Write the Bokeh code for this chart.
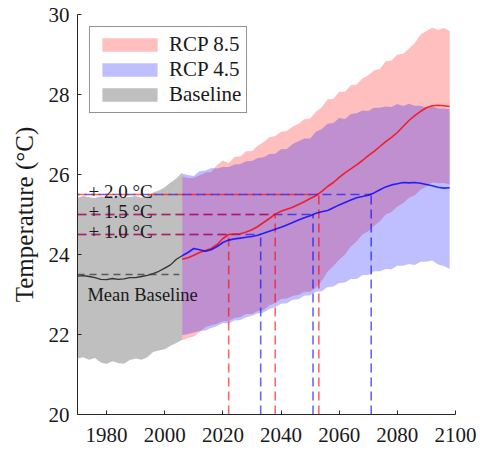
from bokeh.plotting import figure
from bokeh.models import Range1d, Legend, LegendItem
from bokeh.core.properties import value
from bokeh.embed import file_html
from bokeh.resources import INLINE

# ---------------- data ----------------
base_years = list(range(1970, 2007, 2))
base_hi = [25.42, 25.46, 25.43, 25.41, 25.45, 25.44, 25.41, 25.46, 25.43, 25.44,
           25.46, 25.42, 25.46, 25.55, 25.60, 25.68, 25.80, 25.90, 26.05]
base_lo = [21.40, 21.43, 21.37, 21.41, 21.30, 21.26, 21.33, 21.29, 21.27, 21.36,
           21.40, 21.37, 21.43, 21.56, 21.60, 21.63, 21.72, 21.79, 21.87]
base_mean = [23.46, 23.47, 23.45, 23.42, 23.38, 23.37, 23.40, 23.38, 23.39, 23.42,
             23.42, 23.45, 23.48, 23.52, 23.58, 23.66, 23.74, 23.88, 23.97]
base_level = 23.5

rcp_years = list(range(2006, 2099, 2))
rcp85_mean = [23.88, 23.92, 23.98, 24.05, 24.10, 24.15, 24.25, 24.40, 24.50, 24.51,
              24.52, 24.56, 24.62, 24.70, 24.80, 24.90, 25.01, 25.08, 25.13, 25.18,
              25.25, 25.32, 25.40, 25.47, 25.58, 25.70, 25.80, 25.93, 26.04, 26.14,
              26.24, 26.35, 26.47, 26.58, 26.70, 26.82, 26.93, 27.05, 27.20, 27.35,
              27.47, 27.58, 27.67, 27.72, 27.73, 27.72, 27.70]
rcp45_mean = [23.97, 24.05, 24.15, 24.12, 24.08, 24.12, 24.20, 24.30, 24.36, 24.39,
              24.41, 24.43, 24.45, 24.48, 24.53, 24.58, 24.63, 24.68, 24.74, 24.80,
              24.86, 24.92, 24.97, 25.03, 25.07, 25.10, 25.17, 25.24, 25.30, 25.36,
              25.42, 25.45, 25.48, 25.54, 25.62, 25.69, 25.74, 25.77, 25.80, 25.79,
              25.80, 25.78, 25.75, 25.72, 25.68, 25.66, 25.67]
rcp85_hi = [25.95, 25.91, 25.92, 25.98, 26.05, 26.06, 26.24, 26.35, 26.29, 26.44,
            26.45, 26.58, 26.59, 26.72, 26.81, 26.93, 26.96, 27.07, 27.09, 27.20,
            27.27, 27.38, 27.40, 27.57, 27.68, 27.88, 27.89, 28.07, 28.07, 28.23,
            28.25, 28.40, 28.48, 28.60, 28.64, 28.83, 28.85, 29.00, 29.02, 29.15,
            29.29, 29.50, 29.59, 29.67, 29.61, 29.66, 29.59]
rcp45_hi = [26.02, 25.99, 25.96, 26.09, 26.10, 26.16, 26.15, 26.19, 26.19, 26.25,
            26.26, 26.33, 26.34, 26.41, 26.43, 26.51, 26.52, 26.63, 26.64, 26.76,
            26.83, 26.90, 26.90, 27.07, 27.14, 27.27, 27.29, 27.41, 27.39, 27.51,
            27.53, 27.60, 27.59, 27.67, 27.67, 27.70, 27.69, 27.76, 27.71, 27.77,
            27.72, 27.72, 27.67, 27.71, 27.65, 27.65, 27.63]
rcp85_lo = [21.85, 21.91, 21.95, 22.06, 22.19, 22.23, 22.27, 22.33, 22.34, 22.41,
            22.44, 22.51, 22.51, 22.59, 22.61, 22.73, 22.79, 22.89, 22.90, 22.97,
            22.99, 23.07, 23.07, 23.17, 23.34, 23.57, 23.71, 23.87, 24.00, 24.20,
            24.33, 24.50, 24.58, 24.72, 24.83, 25.00, 25.06, 25.20, 25.28, 25.42,
            25.48, 25.62, 25.70, 25.80, 25.78, 25.79, 25.75]
rcp45_lo = [21.98, 22.01, 22.05, 22.09, 22.10, 22.16, 22.21, 22.29, 22.28, 22.35,
            22.36, 22.43, 22.47, 22.53, 22.55, 22.64, 22.69, 22.77, 22.78, 22.87,
            22.88, 22.97, 22.98, 23.07, 23.08, 23.19, 23.20, 23.29, 23.30, 23.39,
            23.39, 23.49, 23.49, 23.58, 23.58, 23.64, 23.63, 23.72, 23.72, 23.76,
            23.74, 23.82, 23.82, 23.85, 23.75, 23.71, 23.64]

levels = [24.5, 25.0, 25.5]
level_labels = ["+ 1.0 °C", "+ 1.5 °C", "+ 2.0 °C"]
rcp85_cross = [2022, 2038, 2053]
rcp45_cross = [2033, 2051, 2071]

x_ticks = [1980, 2000, 2020, 2040, 2060, 2080, 2100]
y_ticks = [20, 22, 24, 26, 28, 30]

FONT = "Liberation Serif"
INK = "#1a1a1a"

# ---------------- figure ----------------
p = figure(frame_width=378, frame_height=400,
           x_range=Range1d(1970, 2100), y_range=Range1d(20, 30),
           output_backend="svg", toolbar_location=None,
           min_border_left=77, min_border_right=23,
           min_border_top=14, min_border_bottom=37)
p.xgrid.visible = False
p.ygrid.visible = False
p.outline_line_color = None
p.background_fill_color = "white"

for ax in (p.xaxis[0], p.yaxis[0]):
    ax.major_tick_in = 4
    ax.major_tick_out = 0
    ax.minor_tick_line_color = None
    ax.axis_line_color = "#262626"
    ax.major_tick_line_color = "#262626"
    ax.major_label_text_font = FONT
    ax.major_label_text_font_size = "21px"
    ax.major_label_text_font_style = "normal"
    ax.major_label_text_color = INK
p.xaxis.ticker = x_ticks
p.yaxis.ticker = y_ticks
p.xaxis.major_label_standoff = 13
p.yaxis.major_label_standoff = 8
p.yaxis.axis_label = "Temperature (°C)"
p.yaxis.axis_label_text_font = FONT
p.yaxis.axis_label_text_font_size = "25px"
p.yaxis.axis_label_text_font_style = "normal"
p.yaxis.axis_label_text_color = INK
p.yaxis.axis_label_standoff = 8

# bands
r_base = p.varea(x=base_years, y1=base_lo, y2=base_hi, fill_color="black", fill_alpha=0.25)
r85 = p.varea(x=rcp_years, y1=rcp85_lo, y2=rcp85_hi, fill_color="red", fill_alpha=0.25)
r45 = p.varea(x=rcp_years, y1=rcp45_lo, y2=rcp45_hi, fill_color="blue", fill_alpha=0.25)

# dashed threshold lines
DASH = "9 5"
x_start = [1970] * 3
y_floor = [20] * 3
p.segment(x0=x_start[:2], y0=levels[:2], x1=rcp45_cross[:2], y1=levels[:2],
          line_color="blue", line_alpha=0.6, line_width=1.6, line_dash=DASH)
p.segment(x0=x_start[2:], y0=levels[2:], x1=rcp45_cross[2:], y1=levels[2:],
          line_color="blue", line_alpha=0.6, line_width=1.6, line_dash=DASH,
          line_dash_offset=7)
p.segment(x0=rcp45_cross, y0=y_floor, x1=rcp45_cross, y1=levels,
          line_color="blue", line_alpha=0.6, line_width=1.6, line_dash=DASH)
p.segment(x0=x_start, y0=levels, x1=rcp85_cross, y1=levels,
          line_color="red", line_alpha=0.6, line_width=1.6, line_dash=DASH)
p.segment(x0=rcp85_cross, y0=y_floor, x1=rcp85_cross, y1=levels,
          line_color="red", line_alpha=0.6, line_width=1.6, line_dash=DASH)

# mean baseline dashed
p.segment(x0=[1970], y0=[base_level], x1=[2005], y1=[base_level],
          line_color="#404040", line_alpha=0.8, line_width=1.4, line_dash="7 5")

# mean lines
p.line(base_years, base_mean, line_color="#333333", line_width=1.3)
p.line(rcp_years, rcp85_mean, line_color="red", line_alpha=0.8, line_width=1.6)
p.line(rcp_years, rcp45_mean, line_color="blue", line_alpha=0.8, line_width=1.6)

# texts
p.text(x=[1973.8] * 3, y=[lv + 0.07 for lv in levels], text=level_labels,
       text_font=value(FONT), text_font_size="19px", text_color=INK,
       text_baseline="alphabetic", text_align="left")
p.text(x=[1973.4], y=[base_level - 0.5], text=["Mean Baseline"],
       text_font=value(FONT), text_font_size="18.5px", text_color=INK,
       text_baseline="alphabetic", text_align="left")

legend = Legend(items=[LegendItem(label="RCP 8.5", renderers=[r85]),
                       LegendItem(label="RCP 4.5", renderers=[r45]),
                       LegendItem(label="Baseline", renderers=[r_base])],
                location=(12, 301))
legend.glyph_width = 69
legend.glyph_height = 17
legend.label_standoff = 5
legend.label_text_font = FONT
legend.label_text_font_size = "21px"
legend.label_text_font_style = "normal"
legend.label_text_color = INK
legend.padding = 5
legend.spacing = 0
legend.margin = 0
legend.border_line_color = "#262626"
legend.border_line_width = 1
legend.background_fill_alpha = 1.0
p.add_layout(legend)

open("out.html", "w").write(file_html(p, INLINE))
